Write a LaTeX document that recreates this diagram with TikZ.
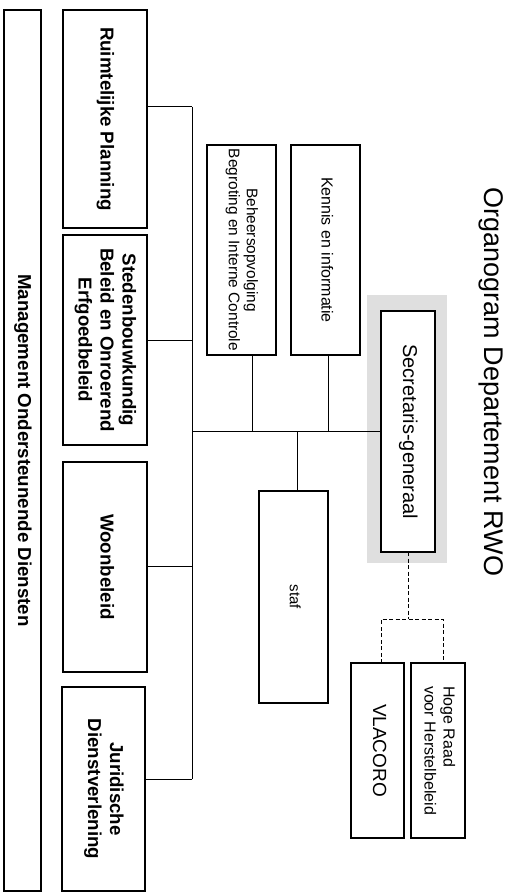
\documentclass[tikz,border=0pt]{standalone}
\usepackage{fontspec}
\setmainfont{Liberation Sans}
\usetikzlibrary{calc}
\newcommand{\rt}[1]{\rotatebox{-90}{\begin{tabular}{@{}c@{}}#1\end{tabular}}}
\newcommand{\rtl}[1]{\rotatebox{-90}{\begin{tabular}{@{}l@{}}#1\end{tabular}}}
\tikzset{
  orgbox/.style={draw, line width=1.2pt, inner sep=0pt, outer sep=0pt, fill=white},
  boldf/.style={font=\fontsize{18.7}{22}\selectfont\bfseries},
  regf/.style={font=\fontsize{16}{19}\selectfont},
  conn/.style={line width=1pt},
  dconn/.style={line width=1pt, dash pattern=on 4pt off 2.5pt}
}
\begin{document}
\begin{tikzpicture}[x=1pt,y=-1pt]
\useasboundingbox (0,0) rectangle (512,896);

% title
\node[font=\fontsize{27}{30}\selectfont, inner sep=0pt] (title) at (491,382) {\rotatebox{-90}{Organogram Departement RWO}};

% halo of Secretaris-generaal
\fill[gray!25] (367,295) rectangle (447,563);

% boxes
\node[orgbox, boldf, minimum width=37pt, minimum height=881pt] (mg) at (22.5,450.5) {\rt{Management Ondersteunende Diensten}};
\node[orgbox, boldf, minimum width=84pt, minimum height=218pt] (rp) at (105,119) {\rt{Ruimtelijke Planning}};
\node[orgbox, boldf, minimum width=84pt, minimum height=210pt] (sb) at (105,340) {\rt{Stedenbouwkundig\\Beleid en Onroerend\\Erfgoedbeleid}};
\node[orgbox, boldf, minimum width=84pt, minimum height=210pt] (wb) at (105,567) {\rt{Woonbeleid}};
\node[orgbox, boldf, minimum width=83pt, minimum height=204pt] (jd) at (103.5,789) {\rt{Juridische\\Dienstverlening}};

\node[orgbox, font=\fontsize{15.4}{18}\selectfont, minimum width=69pt, minimum height=210pt] (bh) at (241.5,250) {\rt{Beheersopvolging\\Begroting en Interne Controle}};
\node[orgbox, regf, minimum width=69pt, minimum height=210pt] (ki) at (325.5,250) {\rt{Kennis en informatie}};
\node[orgbox, font=\fontsize{20}{24}\selectfont, minimum width=54pt, minimum height=241pt] (sg) at (408,431.5) {\rt{Secretaris-generaal}};
\node[orgbox, font=\fontsize{15}{18}\selectfont, minimum width=69pt, minimum height=212pt] (st) at (293.5,597) {\rt{staf}};
\node[orgbox, font=\fontsize{19}{22}\selectfont, minimum width=53pt, minimum height=175pt] (vl) at (377.5,750.5) {\rt{VLACORO}};
\node[orgbox, regf, minimum width=54pt, minimum height=175pt] (hr) at (438,750.5) {\rtl{Hoge Raad\\voor Herstelbeleid}};

% bus coordinates
\coordinate (b1) at (192,107);
\coordinate (b2) at (192,340);
\coordinate (b3) at (192,566);
\coordinate (b4) at (192,779);
\coordinate (bm) at (192,431.5);
\coordinate (cb) at (252,431.5);
\coordinate (ck) at (328,431.5);
\coordinate (cs) at (297,431.5);
\coordinate (dsg) at (408,619);
\coordinate (dl) at (381,619);
\coordinate (dr) at (443,619);

% solid connectors
\draw[conn] (b1) -- (b4);
\draw[conn] (b1) -- (rp.east |- b1);
\draw[conn] (b2) -- (sb.east |- b2);
\draw[conn] (b3) -- (wb.east |- b3);
\draw[conn] (b4) -- (jd.east |- b4);
\draw[conn] (bm) -- (sg.west);
\draw[conn] (cb) -- (cb |- bh.south);
\draw[conn] (ck) -- (ck |- ki.south);
\draw[conn] (cs) -- (cs |- st.north);

% dashed connectors
\draw[dconn] (sg.south) -- (dsg);
\draw[dconn] (dl |- vl.north) -- (dl) -- (dr) -- (dr |- hr.north);
\end{tikzpicture}
\end{document}
